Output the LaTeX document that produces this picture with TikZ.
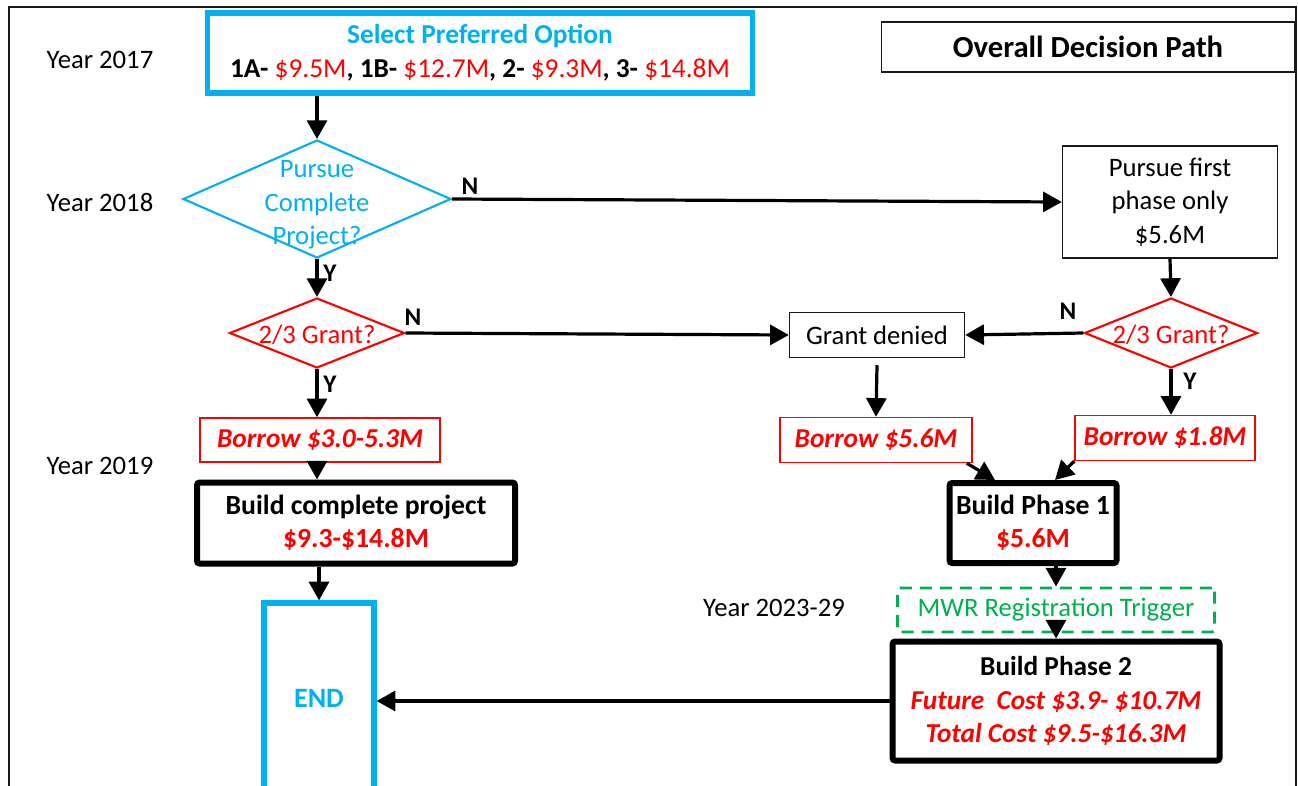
\documentclass[tikz,border=0pt]{standalone}
\usepackage{fontspec}
\setmainfont{Carlito}
\usetikzlibrary{arrows.meta,shapes.geometric,calc}
\definecolor{obl}{RGB}{0,176,240}
\definecolor{ored}{RGB}{255,0,0}
\definecolor{ogr}{RGB}{0,176,80}
\definecolor{frm}{RGB}{25,25,25}
\tikzset{
  base/.style={font=\fontsize{20}{25}\selectfont, align=center, inner sep=0pt},
  thinbox/.style={base, draw=frm, line width=1.1pt, rectangle},
  redbox/.style={base, draw=ored, line width=1.1pt, text=ored, font=\fontsize{20.5}{25}\selectfont\bfseries\itshape},
  thickbox/.style={base, draw=black, line width=4.5pt, rounded corners=2pt, font=\fontsize{20.8}{25}\selectfont},
  bluebox/.style={base, draw=obl, line width=4pt},
  greenbox/.style={base, draw=ogr, text=ogr, line width=2.2pt, dash pattern=on 9pt off 6pt, rounded corners=2pt},
  dia/.style={diamond, draw, line width=1.6pt, inner sep=0pt},
  arr/.style={-{Triangle[length=14pt,width=15pt]}, line width=2.4pt},
  yn/.style={font=\fontsize{19}{20}\selectfont\bfseries, inner sep=0pt},
  yr/.style={base}
}
\begin{document}
\begin{tikzpicture}[x=0.75pt,y=-0.75pt]
\useasboundingbox (0,0) rectangle (1298,785);
% frame
\draw[line width=1.5pt, frm] (9,790) -- (9,7) -- (1296,7) -- (1296,790);

% year labels
\node[yr] (y17) at (100,60) {Year 2017};
\node[yr] (y18) at (100,202) {Year 2018};
\node[yr] (y19) at (100,466) {Year 2019};
\node[yr] (y23) at (774,608) {Year 2023-29};

% nodes
\node[bluebox, minimum width=545*0.75pt, minimum height=80*0.75pt, font=\fontsize{20.5}{25.5}\selectfont] (opt) at (480,53)
  {\textcolor{obl}{\textbf{Select Preferred Option}}\\
   \textbf{1A-} \textcolor{ored}{\$9.5M}\textbf{, 1B-} \textcolor{ored}{\$12.7M}\textbf{, 2-} \textcolor{ored}{\$9.3M}\textbf{, 3-} \textcolor{ored}{\$14.8M}};
\node[thinbox, minimum width=413*0.75pt, minimum height=50*0.75pt, font=\fontsize{23}{25}\selectfont\bfseries] (odp) at (1088,47) {Overall Decision Path};

\node[dia, draw=obl, minimum width=268*0.75pt, minimum height=118*0.75pt] (d1) at (317,199) {};
\node[base, text=obl] (d1t) at (317,205) {Pursue\\Complete\\Project?};

\node[thinbox, minimum width=215*0.75pt, minimum height=112*0.75pt] (pf) at (1170,202) {Pursue first\\phase only\\\$5.6M};

\node[dia, draw=ored, minimum width=175*0.75pt, minimum height=70*0.75pt] (g1) at (317,333) {};
\node[base, text=ored] (g1t) at (317,335) {2/3 Grant?};
\node[dia, draw=ored, minimum width=173*0.75pt, minimum height=70*0.75pt] (g2) at (1171,333) {};
\node[base, text=ored] (g2t) at (1171,335) {2/3 Grant?};

\node[thinbox, minimum width=175*0.75pt, minimum height=45*0.75pt] (gd) at (877,335) {Grant denied};

\node[redbox, minimum width=240*0.75pt, minimum height=44*0.75pt] (b1) at (320,440) {Borrow \$3.0-5.3M};
\node[redbox, minimum width=192*0.75pt, minimum height=45*0.75pt] (b2) at (876,440) {Borrow \$5.6M};
\node[redbox, minimum width=180*0.75pt, minimum height=45*0.75pt] (b3) at (1165,438) {Borrow \$1.8M};

\node[thickbox, minimum width=318*0.75pt, minimum height=81*0.75pt] (bc) at (356,523)
  {\textbf{Build complete project}\\\textcolor{ored}{\textbf{\$9.3-\$14.8M}}};
\node[thickbox, minimum width=167*0.75pt, minimum height=80*0.75pt] (bp1) at (1033,523)
  {\textbf{Build Phase 1}\\\textcolor{ored}{\textbf{\$5.6M}}};
\node[greenbox, minimum width=317*0.75pt, minimum height=44*0.75pt] (mwr) at (1056,610) {MWR Registration Trigger};
\node[thickbox, minimum width=327*0.75pt, minimum height=119*0.75pt, font=\fontsize{20.5}{25}\selectfont] (bp2) at (1056,701)
  {\textbf{Build Phase 2}\\\textcolor{ored}{\textbf{\textit{Future\ \ Cost \$3.9- \$10.7M}}}\\\textcolor{ored}{\textbf{\textit{Total Cost \$9.5-\$16.3M}}}};
\node[bluebox, minimum width=110*0.75pt, minimum height=190*0.75pt, text=obl, font=\fontsize{21}{25}\selectfont\bfseries] (endb) at (319,698) {END};

% connectors
\draw[arr] (opt.south -| d1.north) -- (d1.north);
\draw[arr] (d1.east) -- (pf.west);
\node[yn] (n1) at (470,186) {N};
\draw[arr] (d1.south) -- (g1.north);
\node[yn] (yy1) at (330,273) {Y};
\draw[arr] (pf.south) -- (g2.north);
\draw[arr] (g1.east) -- (gd.west);
\node[yn] (n2) at (413,317) {N};
\draw[arr] (g2.west) -- (gd.east);
\node[yn] (n3) at (1068,311) {N};
\draw[arr] (g1.south) -- (b1.north -| g1.south);
\node[yn] (yy2) at (330,384) {Y};
\draw[arr] ($(gd.south)+(0,7)$) -- (b2.north);
\draw[arr] (g2.south) -- (b3.north -| g2.south);
\node[yn] (yy3) at (1190,381) {Y};
\draw[arr] (b1.south -| g1.south) -- (bc.north -| g1.south);
\draw[arr] (bc.south -| endb.north) -- (endb.north);
\draw[arr] ($(b2.south east)+(-6,0)$) -- ($(bp1.north)+(-38,0)$);
\draw[arr] ($(b3.south west)+(0,0)$) -- ($(bp1.north)+(22,0)$);
\draw[arr] (bp1.south -| mwr.north) -- (mwr.north);
\draw[arr] ($(mwr.south)+(0,-10)$) -- (bp2.north);
\draw[arr] (bp2.west) -- (endb.east |- bp2.west);
\end{tikzpicture}
\end{document}
